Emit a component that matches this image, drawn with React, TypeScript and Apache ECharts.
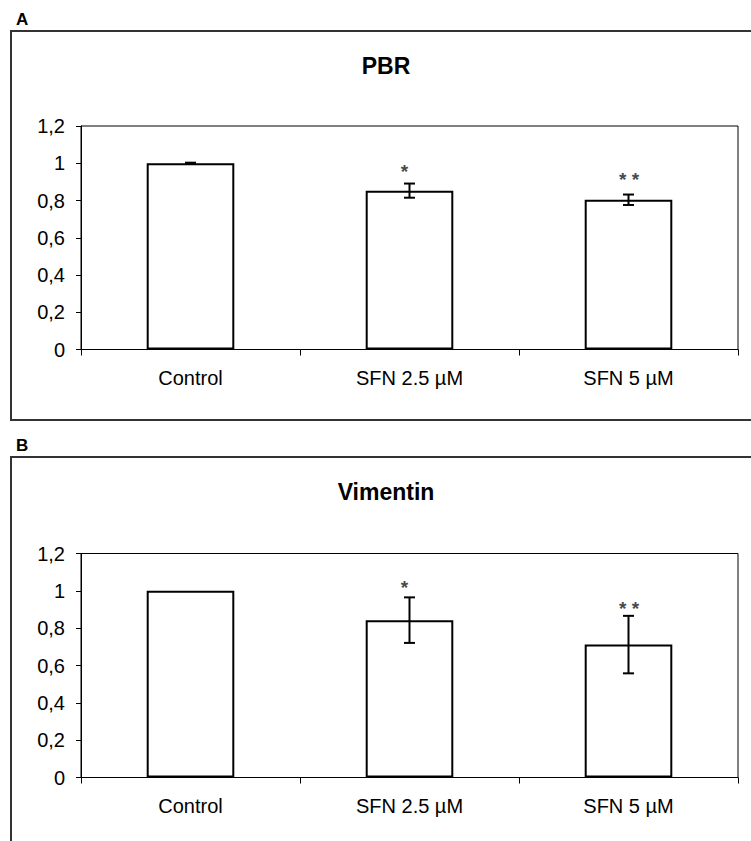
import React, { useEffect, useRef } from "react";
import * as echarts from "echarts";

const categories = ["Control", "SFN 2.5 µM", "SFN 5 µM"];

const pbrMeans = [1.0, 0.853, 0.804];
const pbrErrors = [0.003, 0.038, 0.028];
const pbrStars = ["", "*", "* *"];
const pbrStarLevels = [0, 0.982, 0.939];

const vimMeans = [1.0, 0.843, 0.712];
const vimErrors = [0, 0.122, 0.154];
const vimStars = ["", "*", "* *"];
const vimStarLevels = [0, 1.043, 0.928];

const panelTitles = ["PBR", "Vimentin"];
const panelLetters = ["A", "B"];

const FONT = "'Liberation Sans', Arial, sans-serif";

export default function App() {
  const ref = useRef<HTMLDivElement>(null);

  useEffect(() => {
    if (!ref.current) return;
    const chart = echarts.init(ref.current, undefined, { renderer: "svg" });

    const grids = [
      { left: 81, top: 126, width: 657, height: 223.5 },
      { left: 81, top: 553.5, width: 657, height: 224 },
    ];

    const xAxes = grids.map((_, i) => ({
      type: "category",
      gridIndex: i,
      data: categories,
      axisLine: { lineStyle: { color: "#000", width: 1 } },
      axisTick: { show: true, alignWithLabel: false, length: 6, lineStyle: { color: "#000" } },
      axisLabel: { fontFamily: FONT, fontSize: 20, color: "#000", margin: 18 },
      splitLine: { show: false },
    }));

    const yAxes = grids.map((_, i) => ({
      type: "value",
      gridIndex: i,
      min: 0,
      max: 1.2,
      interval: 0.2,
      axisLine: { show: true, lineStyle: { color: "#000", width: 1 } },
      axisTick: { show: true, length: 5, lineStyle: { color: "#000" } },
      axisLabel: {
        fontFamily: FONT,
        fontSize: 20,
        color: "#000",
        margin: 16,
        formatter: (v: number) => String(+v.toFixed(1)).replace(".", ","),
      },
      splitLine: { show: false },
    }));

    const panels = [
      { means: pbrMeans, errors: pbrErrors, stars: pbrStars, levels: pbrStarLevels },
      { means: vimMeans, errors: vimErrors, stars: vimStars, levels: vimStarLevels },
    ];

    const series: any[] = [];
    panels.forEach((p, i) => {
      series.push({
        type: "bar",
        xAxisIndex: i,
        yAxisIndex: i,
        data: p.means,
        barWidth: "40%",
        itemStyle: { color: "#fff", borderColor: "#000", borderWidth: 2 },
        z: 2,
      });
      series.push({
        type: "custom",
        xAxisIndex: i,
        yAxisIndex: i,
        dimensions: ["x", "mean", "err"],
        encode: { x: 0, y: 1 },
        data: p.means.map((m, k) => [k, m, p.errors[k]]),
        z: 5,
        renderItem: (params: any, api: any) => {
          const x = api.value(0);
          const mean = api.value(1);
          const err = api.value(2);
          if (!err) return null;
          const top = api.coord([x, mean + err]);
          const bot = api.coord([x, mean - err]);
          const half = 5.5;
          const st = { stroke: "#000", lineWidth: 2 };
          return {
            type: "group",
            children: [
              { type: "line", shape: { x1: top[0], y1: top[1], x2: bot[0], y2: bot[1] }, style: st },
              { type: "line", shape: { x1: top[0] - half, y1: top[1], x2: top[0] + half, y2: top[1] }, style: st },
              { type: "line", shape: { x1: bot[0] - half, y1: bot[1], x2: bot[0] + half, y2: bot[1] }, style: st },
            ],
          };
        },
      });
      series.push({
        type: "custom",
        xAxisIndex: i,
        yAxisIndex: i,
        dimensions: ["x", "level"],
        encode: { x: 0, y: 1 },
        data: p.levels.map((l, k) => [k, l]),
        z: 6,
        renderItem: (params: any, api: any) => {
          const idx = params.dataIndex;
          const text = p.stars[idx];
          if (!text) return null;
          const pt = api.coord([api.value(0), api.value(1)]);
          const dx = text === "*" ? -5 : 0.5;
          return {
            type: "text",
            x: pt[0] + dx,
            y: pt[1] + 4.5,
            style: {
              text,
              fontFamily: FONT,
              fontSize: 19,
              fontWeight: "bold",
              fill: "#4a4a4a",
              align: "center",
              verticalAlign: "middle",
            },
          };
        },
      });
    });

    const option: any = {
      animation: false,
      backgroundColor: "#fff",
      grid: grids.map((g) => ({
        ...g,
        show: true,
        borderColor: "#000",
        borderWidth: 1,
        backgroundColor: "transparent",
      })),
      xAxis: xAxes,
      yAxis: yAxes,
      series,
      graphic: [
        {
          type: "rect",
          shape: { x: 11, y: 31, width: 760, height: 389 },
          style: { fill: "none", stroke: "#333", lineWidth: 2 },
          z: 0,
        },
        {
          type: "rect",
          shape: { x: 11, y: 457, width: 760, height: 420 },
          style: { fill: "none", stroke: "#333", lineWidth: 2 },
          z: 0,
        },
        {
          type: "text",
          x: 16,
          y: 19,
          style: { text: panelLetters[0], fontFamily: FONT, fontWeight: "bold", fontSize: 17, fill: "#000", verticalAlign: "middle" },
        },
        {
          type: "text",
          x: 16,
          y: 445.5,
          style: { text: panelLetters[1], fontFamily: FONT, fontWeight: "bold", fontSize: 17, fill: "#000", verticalAlign: "middle" },
        },
        {
          type: "text",
          x: 386,
          y: 66,
          style: { text: panelTitles[0], fontFamily: FONT, fontWeight: "bold", fontSize: 23, fill: "#000", align: "center", verticalAlign: "middle" },
        },
        {
          type: "text",
          x: 386,
          y: 492,
          style: { text: panelTitles[1], fontFamily: FONT, fontWeight: "bold", fontSize: 23, fill: "#000", align: "center", verticalAlign: "middle" },
        },
      ],
    };

    chart.setOption(option);
    return () => chart.dispose();
  }, []);

  return (
    <div
      ref={ref}
      style={{ position: "absolute", left: 0, top: 0, width: 751, height: 841 }}
    />
  );
}
